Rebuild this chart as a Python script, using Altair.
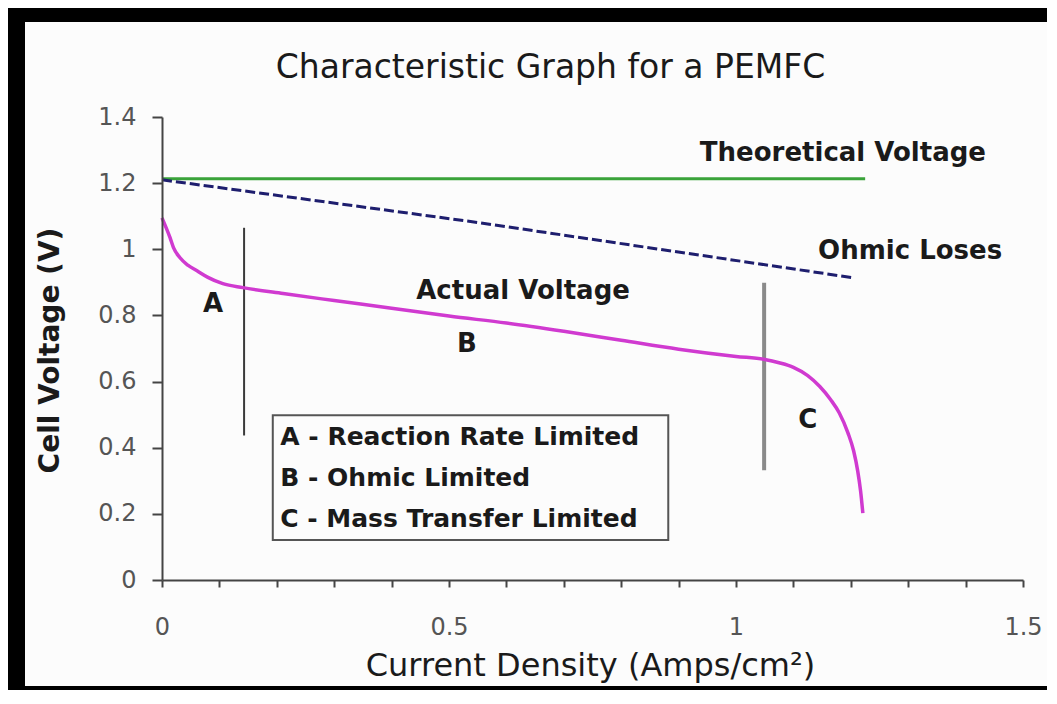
import altair as alt
import pandas as pd

# ---------------- data ----------------
actual_x = [0.0, 0.014, 0.02, 0.031, 0.045, 0.061, 0.08, 0.106, 0.141, 0.211, 0.3, 0.4,
            0.5, 0.6, 0.7, 0.8, 0.9, 1.0, 1.05, 1.075, 1.1, 1.125, 1.146, 1.165,
            1.18, 1.195, 1.205, 1.212, 1.217, 1.221]
actual_y = [1.095, 1.035, 1.005, 0.975, 0.952, 0.935, 0.915, 0.896, 0.884, 0.866, 0.845, 0.822,
            0.798, 0.777, 0.752, 0.725, 0.698, 0.676, 0.667, 0.657, 0.643, 0.618, 0.585, 0.545,
            0.505, 0.445, 0.39, 0.33, 0.27, 0.202]

ohmic_x = [0.0, 0.554, 1.204]
ohmic_y = [1.21, 1.08, 0.914]

theory_x = [0.0, 1.225]
theory_y = [1.213, 1.213]

# region divider lines (x, y from, y to)
div_a = [0.143, 0.437, 1.065]
div_c = [1.049, 0.332, 0.899]

# annotation labels
title_text = "Characteristic Graph for a PEMFC"

ann_text = ["Theoretical Voltage", "Ohmic Loses"]
ann_x = [0.937, 1.143]
ann_y = [1.29, 0.996]

mid_text = ["Actual Voltage", "A", "B", "C"]
mid_x = [0.629, 0.089, 0.531, 1.125]
mid_y = [0.875, 0.836, 0.715, 0.483]

# legend box
box = {"x": 0.193, "x2": 0.882, "y": 0.121, "y2": 0.498}
leg_text = ["A - Reaction Rate Limited", "B - Ohmic Limited", "C - Mass Transfer Limited"]
leg_x = [0.206, 0.206, 0.206]
leg_y = [0.431, 0.308, 0.184]

x_ticks = [round(i * 0.1, 1) for i in range(16)]
y_ticks = [0, 0.2, 0.4, 0.6, 0.8, 1.0, 1.2, 1.4]

# ---------------- chart ----------------
W, H = 861, 463
FONT = "DejaVu Sans"

xs = alt.Scale(domain=[0, 1.5], nice=False, zero=False)
ys = alt.Scale(domain=[0, 1.4], nice=False, zero=False)

x_axis = alt.Axis(
    values=x_ticks, labelExpr="abs(datum.value*2 - round(datum.value*2)) < 0.001 ? datum.label : ''",
    format=".1~f", tickSize=7, labelPadding=28, labelFontSize=24, labelFont=FONT,
    labelColor="#555", labelOverlap=False, labelFlush=False, grid=False, zindex=1,
    domainColor="#444", domainWidth=2, tickColor="#444", tickWidth=2,
    title="Current Density (Amps/cm²)", titleFont=FONT, titleFontSize=32,
    titleFontWeight="normal", titleColor="#1a1a1a", titleX=428, titleY=85,
    titleBaseline="middle", titleAlign="center",
)
y_axis = alt.Axis(
    values=y_ticks, format=".1~f", tickSize=10, labelPadding=16, labelFontSize=24,
    labelFont=FONT, labelColor="#555", grid=False, zindex=1,
    domainColor="#444", domainWidth=2, tickColor="#444", tickWidth=2,
    title="Cell Voltage (V)", titleFont=FONT, titleFontSize=28, titleFontWeight="bold",
    titleColor="#1a1a1a", titleX=-112, titleY=233, titleAngle=270,
    titleBaseline="middle", titleAlign="center",
)

one = pd.DataFrame({"k": [0]})

panel = alt.Chart(one).mark_rect(fill="#fcfcfc").encode(
    x=alt.value(-137), x2=alt.value(W + 30), y=alt.value(-95), y2=alt.value(H + 106)
)

title = alt.Chart(one).mark_text(
    align="center", baseline="alphabetic", font=FONT, fontSize=33, color="#1a1a1a"
).encode(x=alt.value(W / 2 - 42), y=alt.value(-39), text=alt.value(title_text))

actual_df = pd.DataFrame({"x": actual_x, "y": actual_y})
ohmic_df = pd.DataFrame({"x": ohmic_x, "y": ohmic_y})
theory_df = pd.DataFrame({"x": theory_x, "y": theory_y})

axes_base = alt.Chart(theory_df).mark_line(color="#3aa33a", strokeWidth=3).encode(
    x=alt.X("x:Q", scale=xs, axis=x_axis),
    y=alt.Y("y:Q", scale=ys, axis=y_axis),
)

ohmic = alt.Chart(ohmic_df).mark_line(
    color="#1e1e6e", strokeWidth=3, strokeDash=[10, 4]
).encode(x=alt.X("x:Q", scale=xs), y=alt.Y("y:Q", scale=ys))

actual = alt.Chart(actual_df).mark_line(
    color="#d03ad0", strokeWidth=3.5, interpolate="monotone"
).encode(x=alt.X("x:Q", scale=xs), y=alt.Y("y:Q", scale=ys))

rule_a = alt.Chart(pd.DataFrame({"x": [div_a[0]], "y": [div_a[1]], "y2": [div_a[2]]})).mark_rule(
    color="#3a3a3a", strokeWidth=2
).encode(x=alt.X("x:Q", scale=xs), y=alt.Y("y:Q", scale=ys), y2="y2:Q")

rule_c = alt.Chart(pd.DataFrame({"x": [div_c[0]], "y": [div_c[1]], "y2": [div_c[2]]})).mark_rule(
    color="#8a8a8a", strokeWidth=4
).encode(x=alt.X("x:Q", scale=xs), y=alt.Y("y:Q", scale=ys), y2="y2:Q")

box_layer = alt.Chart(pd.DataFrame([box])).mark_rect(
    fill="#fcfcfc", stroke="#555", strokeWidth=2
).encode(
    x=alt.X("x:Q", scale=xs), x2="x2:Q", y=alt.Y("y:Q", scale=ys), y2="y2:Q"
)

ann = alt.Chart(pd.DataFrame({"t": ann_text, "x": ann_x, "y": ann_y})).mark_text(
    align="left", baseline="middle", font=FONT, fontWeight="bold", fontSize=26, color="#1a1a1a"
).encode(x=alt.X("x:Q", scale=xs), y=alt.Y("y:Q", scale=ys), text="t:N")

mid = alt.Chart(pd.DataFrame({"t": mid_text, "x": mid_x, "y": mid_y})).mark_text(
    align="center", baseline="middle", font=FONT, fontWeight="bold", fontSize=26, color="#1a1a1a"
).encode(x=alt.X("x:Q", scale=xs), y=alt.Y("y:Q", scale=ys), text="t:N")

leg = alt.Chart(pd.DataFrame({"t": leg_text, "x": leg_x, "y": leg_y})).mark_text(
    align="left", baseline="middle", font=FONT, fontWeight="bold", fontSize=25, color="#1a1a1a"
).encode(x=alt.X("x:Q", scale=xs), y=alt.Y("y:Q", scale=ys), text="t:N")

chart = alt.layer(
    panel, title, axes_base, ohmic, rule_a, rule_c, actual, box_layer, ann, mid, leg
).properties(
    width=W, height=H,
    autosize=alt.AutoSizeParams(type="none"),
    padding={"left": 154, "top": 109, "right": 24, "bottom": 110},
    background="#000000",
).configure_view(stroke=None)

chart.save("out.html", embed_options={"renderer": "svg", "actions": False})
